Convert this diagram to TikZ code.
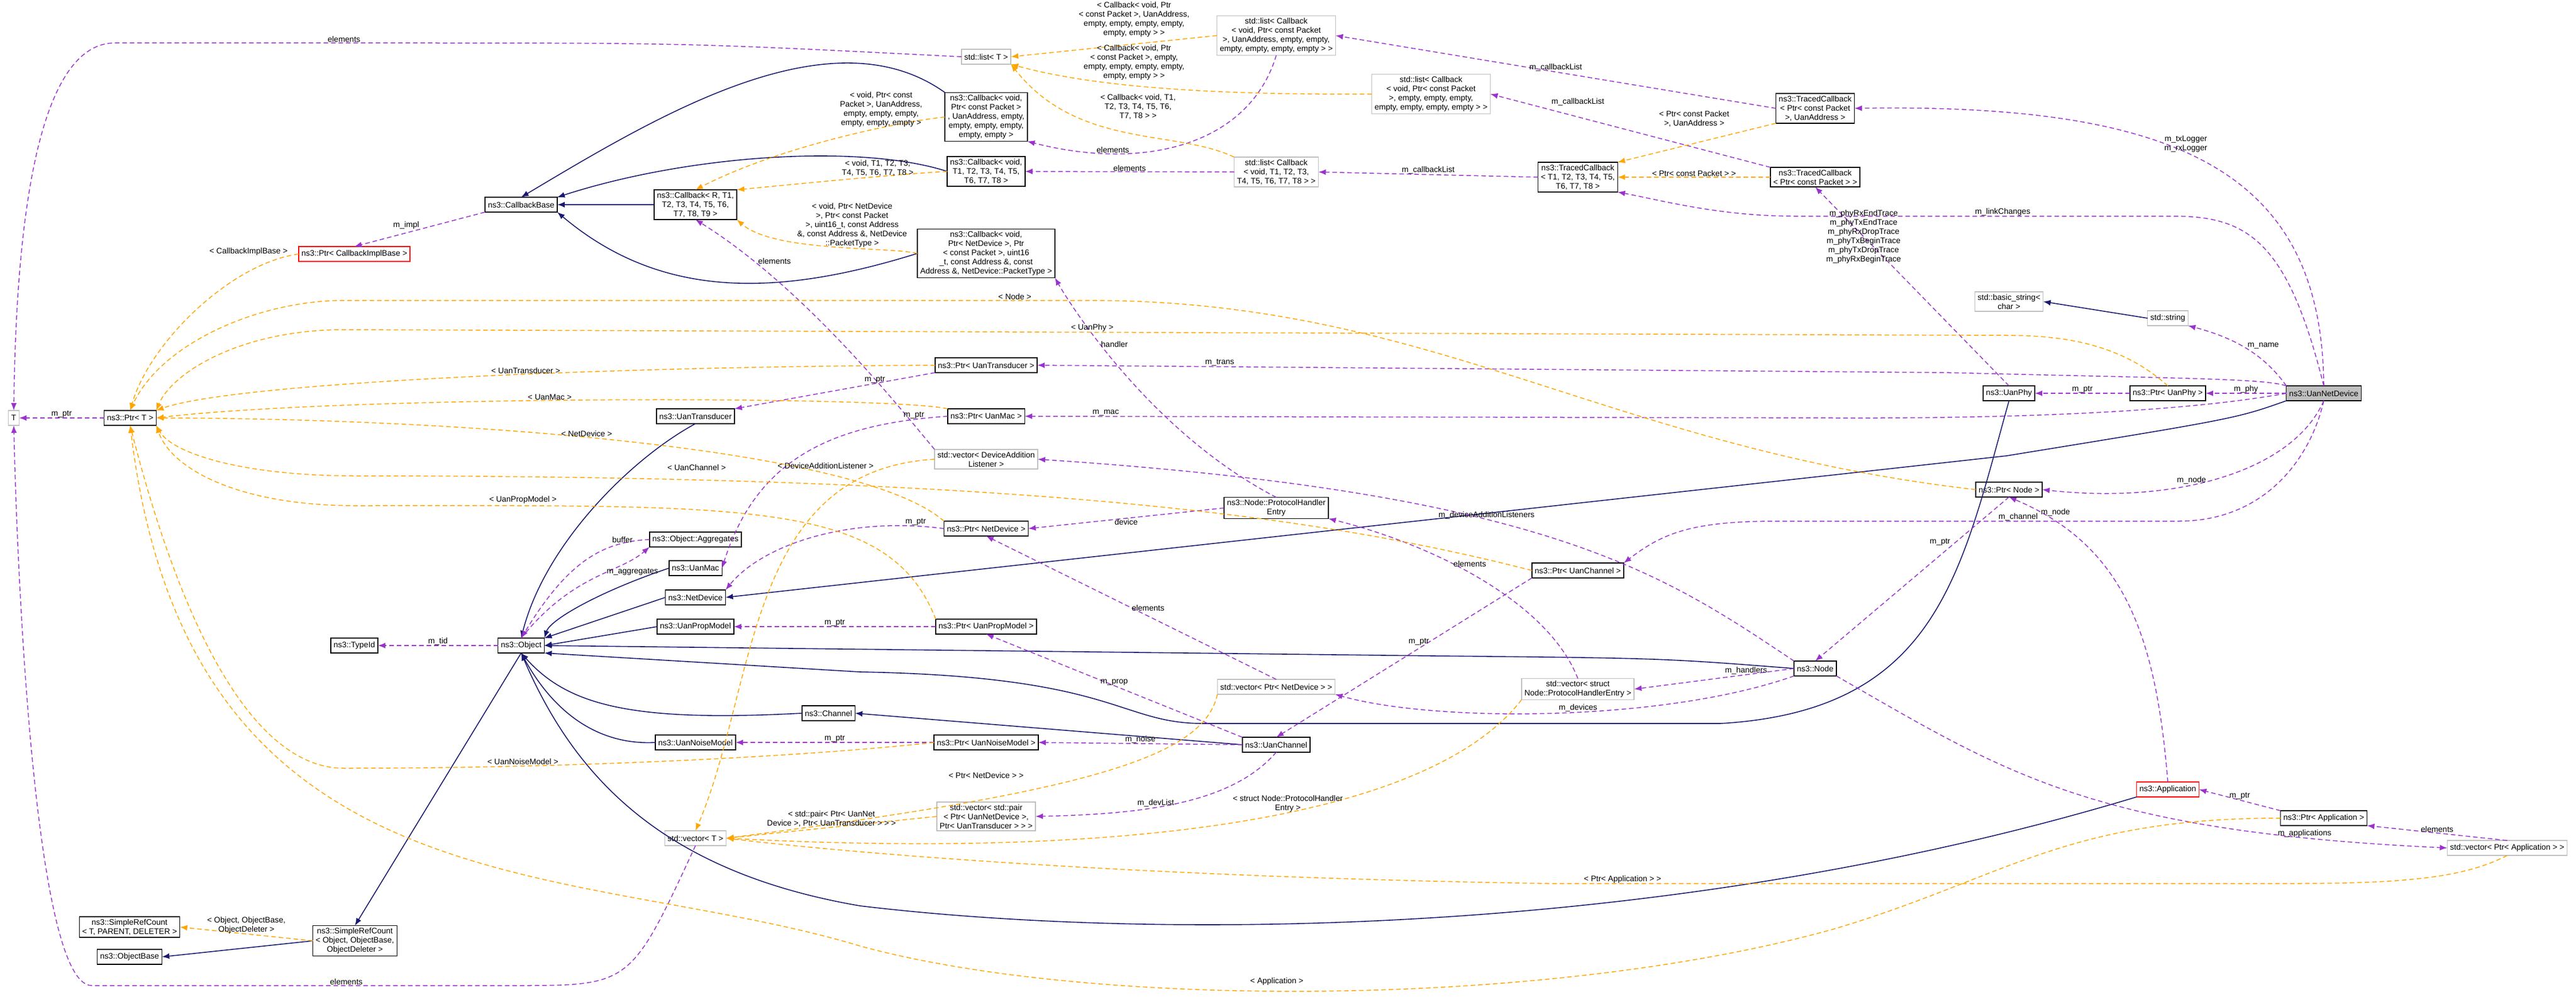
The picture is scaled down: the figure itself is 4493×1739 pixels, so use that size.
\documentclass[tikz,border=0pt]{standalone}
\usepackage{fontspec}
\setmainfont{Liberation Sans}
\usetikzlibrary{arrows.meta,positioning}
\definecolor{usecol}{HTML}{9A32CD}
\definecolor{tplcol}{HTML}{FFA500}
\definecolor{inhcol}{HTML}{191970}
\begin{document}
\begin{tikzpicture}[x=1pt,y=-1pt,font=\fontsize{14}{16}\selectfont]
\tikzset{every node/.style={inner sep=1pt, outer sep=0pt}}

\tikzstyle{cls}=[rectangle,draw=black,fill=white,line width=1.5pt,inner xsep=5pt,inner ysep=4pt,minimum height=26pt,align=center]
\tikzstyle{ext}=[cls,draw=black!25]
\tikzstyle{undoc}=[cls,draw=red]
\tikzstyle{self}=[cls,fill=black!25]
\tikzstyle{lbl}=[align=center,fill=none]
\tikzstyle{inh}=[-{Latex[length=13pt,width=10pt]},draw=inhcol,line width=1.6pt]
\tikzstyle{use}=[-{Latex[length=13pt,width=10pt]},draw=usecol,line width=1.5pt,dash pattern=on 8pt off 5pt]
\tikzstyle{tpl}=[-{Latex[length=13pt,width=10pt]},draw=tplcol,line width=1.5pt,dash pattern=on 8pt off 5pt]

\useasboundingbox (0,0) rectangle (4493,1739);

% left column
\node[ext] (T) at (24,729) {T};
\node[cls] (ptrT) at (227,729) {ns3::Ptr< T >};
\node[cls] (srcT) at (226,1617) {ns3::SimpleRefCount\\< T, PARENT, DELETER >};
\node[cls] (objectbase) at (226,1669) {ns3::ObjectBase};
\node[cls] (srcobj) at (619,1641) {ns3::SimpleRefCount\\< Object, ObjectBase,\\ObjectDeleter >};
\node[undoc] (ptrimpl) at (618,443) {ns3::Ptr< CallbackImplBase >};
\node[cls] (typeid) at (618,1126) {ns3::TypeId};
\node[cls] (callbackbase) at (909,357) {ns3::CallbackBase};
\node[cls] (object) at (909,1126) {ns3::Object};

% classes derived from Object
\node[cls] (callbackR) at (1213,357) {ns3::Callback< R, T1,\\T2, T3, T4, T5, T6,\\T7, T8, T9 >};
\node[cls] (uantransducer) at (1213,726) {ns3::UanTransducer};
\node[cls] (aggregates) at (1213,941) {ns3::Object::Aggregates};
\node[cls] (uanmac) at (1213,991) {ns3::UanMac};
\node[cls] (netdevice) at (1213,1042) {ns3::NetDevice};
\node[cls] (propmodel) at (1213,1093) {ns3::UanPropModel};
\node[cls] (noisemodel) at (1213,1295) {ns3::UanNoiseModel};
\node[ext] (vecT) at (1213,1462) {std::vector< T >};
\node[cls] (channel) at (1445,1244) {ns3::Channel};

% middle
\node[ext] (listT) at (1720,99) {std::list< T >};
\node[cls] (cbaddr) at (1720,204) {ns3::Callback< void,\\Ptr< const Packet >\\, UanAddress, empty,\\empty, empty, empty,\\empty, empty >};
\node[cls] (cbT) at (1720,299) {ns3::Callback< void,\\T1, T2, T3, T4, T5,\\T6, T7, T8 >};
\node[cls] (cbnetdev) at (1720,442) {ns3::Callback< void,\\Ptr< NetDevice >, Ptr\\< const Packet >, uint16\\\_t, const Address \&, const\\Address \&, NetDevice::PacketType >};
\node[cls] (ptrtrans) at (1720,637) {ns3::Ptr< UanTransducer >};
\node[cls] (ptrmac) at (1720,726) {ns3::Ptr< UanMac >};
\node[ext] (vecdal) at (1720,801) {std::vector< DeviceAddition\\Listener >};
\node[cls] (ptrnetdev) at (1720,922) {ns3::Ptr< NetDevice >};
\node[cls] (ptrprop) at (1720,1093) {ns3::Ptr< UanPropModel >};
\node[cls] (ptrnoise) at (1720,1295) {ns3::Ptr< UanNoiseModel >};
\node[ext] (vecpair) at (1720,1424) {std::vector< std::pair\\< Ptr< UanNetDevice >,\\Ptr< UanTransducer > > >};

\node[ext] (listaddr) at (2226,62) {std::list< Callback\\< void, Ptr< const Packet\\>, UanAddress, empty, empty,\\empty, empty, empty, empty > >};
\node[ext] (listempty) at (2496,164) {std::list< Callback\\< void, Ptr< const Packet\\>, empty, empty, empty,\\empty, empty, empty, empty > >};
\node[ext] (listcbT) at (2226,300) {std::list< Callback\\< void, T1, T2, T3,\\T4, T5, T6, T7, T8 > >};
\node[cls] (phe) at (2226,886) {ns3::Node::ProtocolHandler\\Entry};
\node[ext] (vecnetdev) at (2226,1198) {std::vector< Ptr< NetDevice > >};
\node[cls] (uanchannel) at (2226,1299) {ns3::UanChannel};

\node[cls] (tcT) at (2752,309) {ns3::TracedCallback\\< T1, T2, T3, T4, T5,\\T6, T7, T8 >};
\node[cls] (ptrchan) at (2752,995) {ns3::Ptr< UanChannel >};
\node[ext] (vecphe) at (2752,1202) {std::vector< struct\\Node::ProtocolHandlerEntry >};

% right
\node[cls] (tcaddr) at (3166,189) {ns3::TracedCallback\\< Ptr< const Packet\\>, UanAddress >};
\node[cls] (tcpkt) at (3166,309) {ns3::TracedCallback\\< Ptr< const Packet > >};
\node[cls] (node) at (3166,1166) {ns3::Node};
\node[ext] (basicstr) at (3504,526) {std::basic\_string<\\char >};
\node[cls] (uanphy) at (3504,686) {ns3::UanPhy};
\node[cls] (ptrnode) at (3504,854) {ns3::Ptr< Node >};
\node[ext] (stdstr) at (3781,555) {std::string};
\node[cls] (ptrphy) at (3781,686) {ns3::Ptr< UanPhy >};
\node[undoc] (application) at (3781,1377) {ns3::Application};
\node[self] (uannetdevice) at (4053,686) {ns3::UanNetDevice};
\node[cls] (ptrapp) at (4053,1427) {ns3::Ptr< Application >};
\node[ext] (vecapp) at (4373,1479) {std::vector< Ptr< Application > >};

% inheritance
\draw[inh] (callbackR) -- (callbackbase);
\draw[inh] (cbaddr.north west) .. controls (1450,20) and (1150,200) .. (callbackbase.north);
\draw[inh] (cbT.west) .. controls (1500,250) and (1200,270) .. (callbackbase.north east);
\draw[inh] (cbnetdev.west) .. controls (1350,520) and (1150,520) .. (callbackbase.south east);
\draw[inh] (uantransducer.south) .. controls (1100,800) and (950,950) .. (object.north);
\draw[inh] (uanmac.west) .. controls (1050,1030) and (960,1080) .. (object.north east);
\draw[inh] (netdevice.west) -- (object.north east);
\draw[inh] (propmodel.west) -- (object.east);
\draw[inh] (channel.west) .. controls (1100,1260) and (990,1230) .. (object.south);
\draw[inh] (noisemodel.west) .. controls (1050,1300) and (970,1250) .. (object.south);
\draw[inh] (object.south) -- (srcobj.north);
\draw[inh] (srcobj.west) -- (objectbase.east);
\draw[inh] (node.west) .. controls (2900,1148) .. (2500,1144) -- (object.east);
\draw[inh] (uanphy.south) .. controls (3420,1000) and (3380,1240) .. (3000,1262) -- (2100,1262) .. controls (1950,1262) and (1950,1180) .. (1500,1172) -- (object.south east);
\draw[inh] (application.south west) .. controls (2900,1640) and (2000,1640) .. (1500,1580) .. controls (1150,1520) and (1000,1350) .. (object.south);
\draw[inh] (uannetdevice.south west) .. controls (3900,730) .. (3500,795) -- (netdevice.east);
\draw[inh] (uanchannel.west) -- (channel.east);
\draw[inh] (stdstr.west) -- (basicstr.east);

% usage
\draw[use] (ptrT) -- node[lbl,above]{m\_ptr} (T);
\draw[use] (listT.west) .. controls (1200,75) .. (700,75) -- node[lbl,above,pos=0.2]{elements} (200,75) .. controls (100,75) and (30,250) .. (T.north);
\draw[use] (vecT.south) .. controls (1100,1719) .. (900,1719) -- node[lbl,above,pos=0.4]{elements} (160,1719) .. controls (60,1719) and (30,1000) .. (T.south);
\draw[use] (callbackbase.south west) -- node[lbl,above left]{m\_impl} (ptrimpl.north);
\draw[use] (listaddr.south) .. controls (2180,250) and (2000,300) .. node[lbl,above,pos=0.75]{elements} (cbaddr.south east);
\draw[use] (listcbT.west) -- node[lbl,above]{elements} (cbT.east);
\draw[use] (vecdal.north west) .. controls (1560,700) and (1400,500) .. node[lbl,above right,pos=0.8]{elements} (callbackR.south);
\draw[use] (phe.north) .. controls (2000,750) and (1860,520) .. node[lbl,right,pos=0.6]{handler} (cbnetdev.south east);
\draw[use] (phe.west) -- node[lbl,below]{device} (ptrnetdev.east);
\draw[use] (ptrtrans.south west) -- node[lbl,above,pos=0.3]{m\_ptr} (uantransducer.north east);
\draw[use] (ptrmac.west) .. controls (1450,740) and (1320,800) .. node[lbl,above,pos=0.1]{m\_ptr} (uanmac.east);
\draw[use] (ptrnetdev.west) .. controls (1480,900) and (1330,950) .. node[lbl,above,pos=0.1]{m\_ptr} (netdevice.north east);
\draw[use] (ptrprop) -- node[lbl,above]{m\_ptr} (propmodel);
\draw[use] (ptrnoise) -- node[lbl,above]{m\_ptr} (noisemodel);
\draw[use] (object.north) .. controls (1000,1000) and (1080,1000) .. node[lbl,right,pos=0.6]{m\_aggregates} (aggregates.south west);
\draw[use] (aggregates.west) .. controls (1050,945) and (990,980) .. node[lbl,above,pos=0.2]{buffer} (object.north);
\draw[use] (object.west) -- node[lbl,above]{m\_tid} (typeid.east);
\draw[use] (tcaddr.west) -- node[lbl,above]{m\_callbackList} (listaddr.east);
\draw[use] (tcpkt.north west) -- (listempty.east);
\node[lbl] (lcblist) at (2752,178) {m\_callbackList};
\draw[use] (tcT.west) -- node[lbl,above]{m\_callbackList} (listcbT.east);
\draw[use] (uannetdevice.north) .. controls (4050,300) and (3800,180) .. node[lbl,above,pos=0.55]{m\_txLogger\\m\_rxLogger} (tcaddr.east);
\draw[use] (uannetdevice.north) .. controls (3990,420) and (3920,377) .. (3790,377) -- node[lbl,above,pos=0.45]{m\_linkChanges} (3130,377) .. controls (3000,377) and (2900,350) .. (tcT.south east);
\draw[use] (uanphy.north) -- node[lbl,pos=0.75]{m\_phyRxEndTrace\\m\_phyTxEndTrace\\m\_phyRxDropTrace\\m\_phyTxBeginTrace\\m\_phyTxDropTrace\\m\_phyRxBeginTrace} (tcpkt.south);
\draw[use] (uannetdevice.north west) .. controls (3950,620) and (3900,590) .. node[lbl,above right,pos=0.5]{m\_name} (stdstr.south east);
\draw[use] (uannetdevice.north west) .. controls (3950,660) and (3800,660) .. (3400,650) -- node[lbl,above,pos=0.8]{m\_trans} (ptrtrans.east);
\draw[use] (uannetdevice) -- node[lbl,above]{m\_phy} (ptrphy);
\draw[use] (ptrphy) -- node[lbl,above]{m\_ptr} (uanphy);
\draw[use] (uannetdevice.west) .. controls (3800,720) and (3500,730) .. (3200,729) -- node[lbl,above,pos=0.9]{m\_mac} (ptrmac.east);
\draw[use] (uannetdevice.south) .. controls (4000,820) and (3800,880) .. node[lbl,above,pos=0.6]{m\_node} (ptrnode.east);
\draw[use] (uannetdevice.south) .. controls (4030,800) and (3950,909) .. (3800,909) -- node[lbl,above,pos=0.4]{m\_channel} (3100,909) .. controls (2950,909) and (2900,930) .. (ptrchan.north east);
\draw[use] (ptrnode.south) -- node[lbl,above left,pos=0.3]{m\_ptr} (node.north);
\draw[use] (application.north) .. controls (3760,1100) and (3700,950) .. node[lbl,right,pos=0.9]{m\_node} (ptrnode.south);
\draw[use] (ptrapp.north west) -- node[lbl,above]{m\_ptr} (application.east);
\draw[use] (vecapp.north) -- node[lbl,above]{elements} (ptrapp.south east);
\draw[use] (node.south east) .. controls (3500,1350) and (3650,1450) .. node[lbl,above,pos=0.85]{m\_applications} (vecapp.west);
\draw[use] (node.north west) .. controls (2900,1000) and (2700,860) .. node[lbl,above,pos=0.6]{m\_deviceAdditionListeners} (vecdal.east);
\draw[use] (node.west) -- node[lbl,above,pos=0.3]{m\_handlers} (vecphe.east);
\draw[use] (node.south west) .. controls (2900,1260) and (2500,1260) .. node[lbl,above,pos=0.45]{m\_devices} (vecnetdev.south east);
\draw[use] (vecnetdev.north) -- node[lbl,right,pos=0.5]{elements} (ptrnetdev.south);
\draw[use] (vecphe.north) .. controls (2700,1050) and (2500,950) .. node[lbl,right,pos=0.6]{elements} (phe.south east);
\draw[use] (ptrchan.south west) -- node[lbl,left,pos=0.4]{m\_ptr} (uanchannel.north);
\draw[use] (uanchannel.north west) -- node[lbl,above,pos=0.5]{m\_prop} (ptrprop.south);
\draw[use] (uanchannel.west) -- node[lbl,above]{m\_noise} (ptrnoise.east);
\draw[use] (uanchannel.south) .. controls (2150,1400) and (2000,1420) .. node[lbl,above,pos=0.6]{m\_devList} (vecpair.east);

% templates
\draw[tpl] (listaddr.west) -- (listT.east);
\node[lbl] (llistaddr) at (1978,34) {< Callback< void, Ptr\\< const Packet >, UanAddress,\\empty, empty, empty, empty,\\empty, empty > >};
\draw[tpl] (listempty.west) .. controls (2100,166) and (1900,150) .. (listT.south east);
\node[lbl] (llistempty) at (1978,109) {< Callback< void, Ptr\\< const Packet >, empty,\\empty, empty, empty, empty,\\empty, empty > >};
\draw[tpl] (listcbT.north west) .. controls (2050,225) and (1880,260) .. (listT.south east);
\node[lbl] (llistcbT) at (1985,186) {< Callback< void, T1,\\T2, T3, T4, T5, T6,\\T7, T8 > >};
\draw[tpl] (cbaddr.west) .. controls (1550,215) and (1350,260) .. node[lbl,above,pos=0.3]{< void, Ptr< const\\Packet >, UanAddress,\\empty, empty, empty,\\empty, empty, empty >} (callbackR.north);
\draw[tpl] (cbT.west) .. controls (1550,305) and (1400,320) .. node[lbl,above,pos=0.35]{< void, T1, T2, T3,\\T4, T5, T6, T7, T8 >} (callbackR.north east);
\draw[tpl] (cbnetdev.west) .. controls (1550,430) and (1350,440) .. node[lbl,above,pos=0.4]{< void, Ptr< NetDevice\\>, Ptr< const Packet\\>, uint16\_t, const Address\\\&, const Address \&, NetDevice\\::PacketType >} (callbackR.south east);
\draw[tpl] (tcaddr.south west) -- (tcT.north east);
\node[lbl] (ltcaddr) at (2955,207) {< Ptr< const Packet\\>, UanAddress >};
\draw[tpl] (tcpkt.west) -- node[lbl,above]{< Ptr< const Packet > >} (tcT.east);
\draw[tpl] (srcobj.west) -- node[lbl,above]{< Object, ObjectBase,\\ObjectDeleter >} (srcT.east);
\draw[tpl] (ptrimpl.west) .. controls (400,460) and (260,600) .. node[lbl,above left,pos=0.05]{< CallbackImplBase >} (ptrT.north);
\draw[tpl] (ptrnode.west) .. controls (2800,780) and (2500,524) .. (1900,524) -- node[lbl,above,pos=0.1]{< Node >} (600,524) .. controls (450,524) and (280,600) .. (ptrT.north);
\draw[tpl] (ptrphy.north) .. controls (3700,600) and (3600,585) .. (3500,585) -- node[lbl,above,pos=0.55]{< UanPhy >} (600,575) .. controls (420,575) and (300,650) .. (ptrT.north east);
\draw[tpl] (ptrtrans.west) .. controls (1000,640) and (400,670) .. node[lbl,above,pos=0.4]{< UanTransducer >} (ptrT.north east);
\draw[tpl] (ptrmac.north west) .. controls (1550,690) and (600,690) .. node[lbl,above,pos=0.55]{< UanMac >} (ptrT.east);
\draw[tpl] (ptrnetdev.north west) .. controls (1500,780) and (800,730) .. node[lbl,above,pos=0.55]{< NetDevice >} (ptrT.east);
\draw[tpl] (ptrchan.west) .. controls (2300,900) and (1800,830) .. (620,830) .. controls (420,830) and (300,790) .. (ptrT.south east);
\node[lbl] (lchan) at (1215,815) {< UanChannel >};
\draw[tpl] (ptrprop.north west) .. controls (1550,870) and (1300,882) .. (620,882) .. controls (420,882) and (300,820) .. (ptrT.south east);
\node[lbl] (lprop) at (912,872) {< UanPropModel >};
\draw[tpl] (ptrnoise.west) .. controls (1400,1320) and (1000,1340) .. (600,1340) .. controls (400,1340) and (280,950) .. (ptrT.south);
\node[lbl] (lnoise) at (912,1328) {< UanNoiseModel >};
\draw[tpl] (ptrapp.west) .. controls (3600,1427) and (3500,1530) .. (3200,1620) .. controls (2700,1760) and (1900,1760) .. (1500,1650) .. controls (1000,1500) and (330,1600) .. (ptrT.south);
\node[lbl] (lapp) at (2227,1712) {< Application >};
\draw[tpl] (vecdal.west) .. controls (1300,820) and (1320,1200) .. (vecT.north);
\node[lbl] (lvecdal) at (1440,812) {< DeviceAdditionListener >};
\draw[tpl] (vecnetdev.south west) .. controls (2100,1320) and (1900,1380) .. (vecT.east);
\node[lbl] (lvecnd) at (1720,1352) {< Ptr< NetDevice > >};
\draw[tpl] (vecpair.west) -- node[lbl,above,pos=0.5]{< std::pair< Ptr< UanNet\\Device >, Ptr< UanTransducer > > >} (vecT.east);
\draw[tpl] (vecphe.south west) .. controls (2500,1420) and (2000,1500) .. node[lbl,above,pos=0.45]{< struct Node::ProtocolHandler\\Entry >} (vecT.east);
\draw[tpl] (vecapp.south) .. controls (4300,1530) and (4200,1541) .. (4000,1541) -- node[lbl,above,pos=0.9]{< Ptr< Application > >} (2700,1541) .. controls (2000,1530) and (1500,1490) .. (vecT.east);

\end{tikzpicture}
\end{document}
